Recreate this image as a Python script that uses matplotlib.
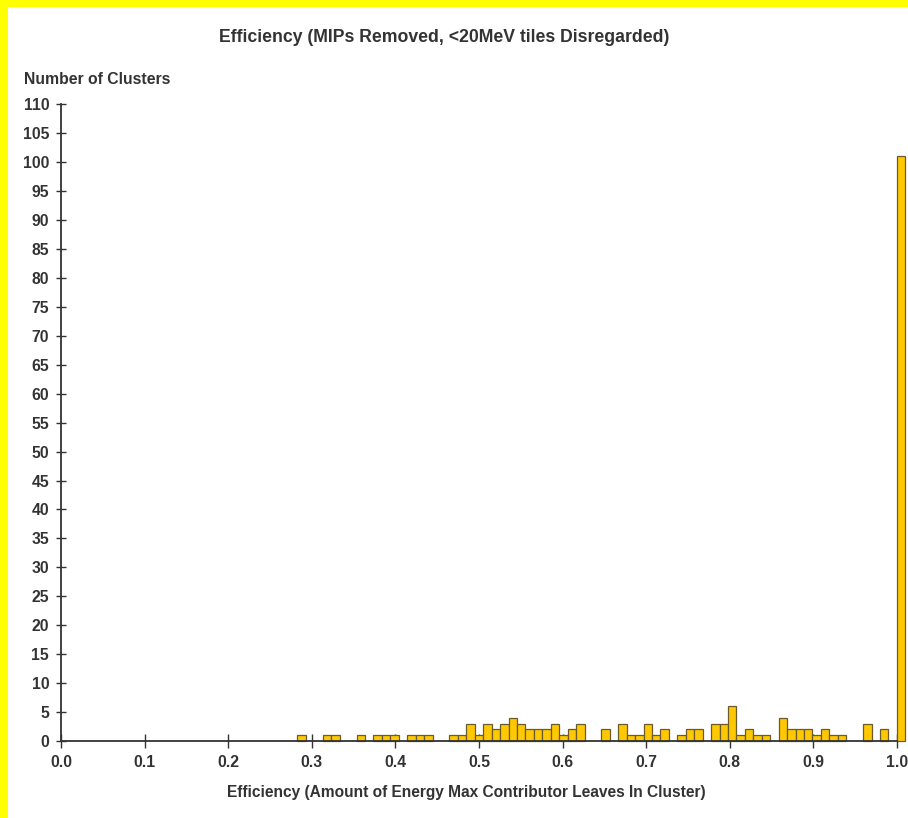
import numpy as np
import matplotlib
matplotlib.use("Agg")
import matplotlib.pyplot as plt
from matplotlib.patches import Rectangle

# Histogram definition: 100 equal bins from 0 to 1.01
n_bins = 100
x_low, x_high = 0.0, 1.01

# Filled bins (bin index -> number of clusters)
bin_index = [28, 31, 32, 35, 37, 38, 39, 41, 42, 43,
             46, 47, 48, 49, 50, 51, 52, 53, 54, 55,
             56, 57, 58, 59, 60, 61, 64, 66, 67, 68,
             69, 70, 71, 73, 74, 75, 77, 78, 79, 80,
             81, 82, 83, 85, 86, 87, 88, 89, 90, 91,
             92, 95, 97, 99]
bin_count = [1, 1, 1, 1, 1, 1, 1, 1, 1, 1,
             1, 1, 3, 1, 3, 2, 3, 4, 3, 2,
             2, 2, 3, 1, 2, 3, 2, 3, 1, 1,
             3, 1, 2, 1, 2, 2, 3, 3, 6, 1,
             2, 1, 1, 4, 2, 2, 2, 1, 2, 1,
             1, 3, 2, 101]

x_ticks = [0.0, 0.1, 0.2, 0.3, 0.4, 0.5, 0.6, 0.7, 0.8, 0.9, 1.0]
x_tick_labels = ["0.0", "0.1", "0.2", "0.3", "0.4", "0.5", "0.6", "0.7", "0.8", "0.9", "1.0"]
y_ticks = list(range(0, 111, 5))

title = "Efficiency (MIPs Removed, <20MeV tiles Disregarded)"
x_label = "Efficiency (Amount of Energy Max Contributor Leaves In Cluster)"
y_label = "Number of Clusters"

W, H = 908, 818
DPI = 100
text_color = "#333333"
plt.rcParams["font.family"] = ["Liberation Sans", "DejaVu Sans"]

fig = plt.figure(figsize=(W / DPI, H / DPI), dpi=DPI)
fig.patch.set_facecolor("white")

# yellow frame strips on the left and top
fig.patches.append(Rectangle((0, 0), 7.5 / W, 1, transform=fig.transFigure,
                             facecolor="#ffff00", edgecolor="none", zorder=0))
fig.patches.append(Rectangle((0, 1 - 6.5 / H), 1, 6.5 / H, transform=fig.transFigure,
                             facecolor="#ffff00", edgecolor="none", zorder=0))


def px(x, y):
    return x / W, 1 - y / H


ax_left, ax_right, ax_top, ax_bottom = 61, 897, 104.3, 741
ax = fig.add_axes([ax_left / W, 1 - ax_bottom / H,
                   (ax_right - ax_left) / W, (ax_bottom - ax_top) / H])
ax.set_facecolor("white")

edges = np.linspace(x_low, x_high, n_bins + 1)
width = edges[1] - edges[0]
lefts = edges[np.array(bin_index)]
bars = ax.bar(lefts, bin_count, width=width, align="edge",
              color="#ffc800", edgecolor="#6a5c2a", linewidth=0.9, zorder=2)
for b in bars:
    b.set_clip_on(False)

ax.set_xlim(0, 1.0)
ax.set_ylim(0, 110)
for s in ("top", "right"):
    ax.spines[s].set_visible(False)
for s in ("left", "bottom"):
    ax.spines[s].set_color(text_color)
    ax.spines[s].set_linewidth(1.3)
    ax.spines[s].set_zorder(3)

ax.set_xticks(x_ticks)
ax.set_xticklabels(x_tick_labels)
ax.set_yticks(y_ticks)
ax.set_yticklabels([str(v) for v in y_ticks])
ax.tick_params(axis="x", direction="inout", length=10, width=1.0, color=text_color,
               labelsize=11.3, labelcolor=text_color, pad=5)
ax.tick_params(axis="y", direction="inout", length=7, width=1.0, color=text_color,
               labelsize=11.3, labelcolor=text_color, pad=5)
for lbl in ax.get_xticklabels() + ax.get_yticklabels():
    lbl.set_fontweight("bold")

fig.text(*px(444, 37), title, ha="center", va="center", fontsize=12.7,
         fontweight="bold", color=text_color)
fig.text(*px(24, 79), y_label, ha="left", va="center", fontsize=11.3,
         fontweight="bold", color=text_color)
fig.text(*px(466, 793), x_label, ha="center", va="center", fontsize=11.2,
         fontweight="bold", color=text_color)

fig.savefig("out.png", dpi=DPI)
